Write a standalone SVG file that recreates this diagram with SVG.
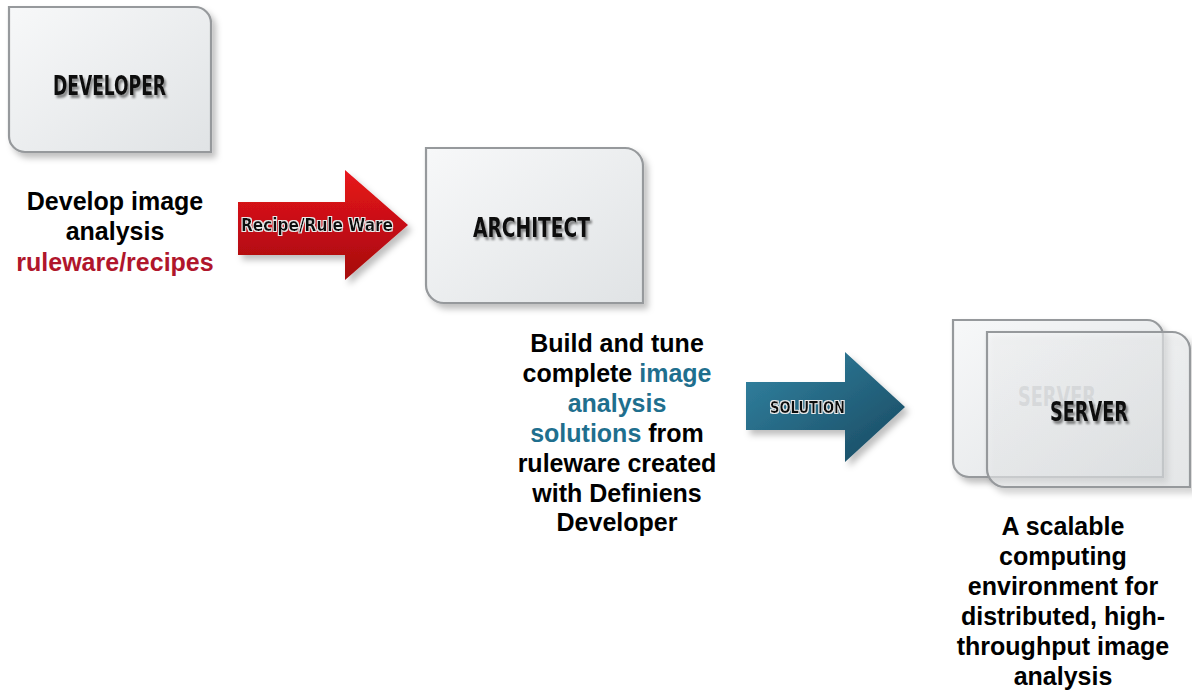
<svg xmlns="http://www.w3.org/2000/svg" width="1192" height="690" viewBox="0 0 1192 690">
<defs>
<linearGradient id="boxGrad" x1="0" y1="0" x2="1" y2="1">
<stop offset="0" stop-color="#f7f8f9"/>
<stop offset="1" stop-color="#e0e3e5"/>
</linearGradient>
<linearGradient id="redGrad" x1="0" y1="0" x2="0" y2="1">
<stop offset="0" stop-color="#e8151b"/>
<stop offset="1" stop-color="#a50a0e"/>
</linearGradient>
<linearGradient id="blueGrad" x1="0" y1="0" x2="1" y2="1">
<stop offset="0" stop-color="#3385a4"/>
<stop offset="1" stop-color="#18485f"/>
</linearGradient>
<filter id="boxShadow" x="-10%" y="-10%" width="125%" height="130%">
<feDropShadow dx="4" dy="5" stdDeviation="3" flood-color="#000" flood-opacity="0.25"/>
</filter>
<filter id="txtShadow" x="-10%" y="-30%" width="125%" height="170%">
<feDropShadow dx="2" dy="3" stdDeviation="1.2" flood-color="#000" flood-opacity="0.45"/>
</filter>
<filter id="glow" x="-10%" y="-40%" width="120%" height="180%">
<feMorphology in="SourceAlpha" operator="dilate" radius="1.3" result="d"/>
<feFlood flood-color="#e9e9e9"/>
<feComposite in2="d" operator="in" result="g"/>
<feMerge><feMergeNode in="g"/><feMergeNode in="SourceGraphic"/></feMerge>
</filter>
</defs>
<style>
.box{fill:url(#boxGrad);stroke:#96999c;stroke-width:2.2;filter:url(#boxShadow)}
.lbl{font-family:"DejaVu Sans Condensed","DejaVu Sans",sans-serif;font-stretch:condensed;font-weight:bold;fill:#111}
.desc{font-family:"Liberation Sans",Arial,sans-serif;font-weight:bold;font-size:25px;fill:#000;text-anchor:middle}
.red{fill:#b0162c}
.blue{fill:#1f6f8e}
.alab{font-family:"DejaVu Sans Condensed","DejaVu Sans",sans-serif;font-stretch:condensed;font-weight:bold;fill:#111;filter:url(#glow)}
</style>

<g id="developer">
<path class="box" d="M9,7 H195 A16,16 0 0 1 211,23 V152 H25 A16,16 0 0 1 9,136 Z"/>
<text class="lbl" x="53" y="95" font-size="26" textLength="113" lengthAdjust="spacingAndGlyphs" filter="url(#txtShadow)">DEVELOPER</text>
<text class="desc"><tspan x="115" y="210">Develop image</tspan><tspan x="115" y="240">analysis</tspan><tspan x="115" y="271" class="red">ruleware/recipes</tspan></text>
</g>

<g id="architect">
<path class="box" d="M426,148 H625 A18,18 0 0 1 643,166 V303 H444 A18,18 0 0 1 426,285 Z"/>
<text class="lbl" x="473" y="237" font-size="26" textLength="117" lengthAdjust="spacingAndGlyphs" filter="url(#txtShadow)">ARCHITECT</text>
<text class="desc"><tspan x="617" y="352">Build and tune</tspan><tspan x="617" y="382">complete <tspan class="blue">image</tspan></tspan><tspan x="617" y="412" class="blue">analysis</tspan><tspan x="617" y="442"><tspan class="blue">solutions</tspan> from</tspan><tspan x="617" y="472">ruleware created</tspan><tspan x="617" y="502">with Definiens</tspan><tspan x="617" y="531">Developer</tspan></text>
</g>

<g id="server">
<path class="box" d="M953,320 H1147 A16,16 0 0 1 1163,336 V477 H969 A16,16 0 0 1 953,461 Z"/>
<text class="lbl" x="1018" y="406" font-size="26" textLength="78" lengthAdjust="spacingAndGlyphs" style="fill:#b9bcbf">SERVER</text>
<path class="box" d="M987,332 H1172 A18,18 0 0 1 1190,350 V487 H1005 A18,18 0 0 1 987,469 Z" style="fill-opacity:0.6"/>
<text class="lbl" x="1050" y="421" font-size="26" textLength="78" lengthAdjust="spacingAndGlyphs" filter="url(#txtShadow)">SERVER</text>
<text class="desc"><tspan x="1063" y="535">A scalable</tspan><tspan x="1063" y="565">computing</tspan><tspan x="1063" y="595">environment for</tspan><tspan x="1063" y="625">distributed, high-</tspan><tspan x="1063" y="655">throughput image</tspan><tspan x="1063" y="685">analysis</tspan></text>
</g>

<g id="connectors">
<g id="arrow-recipe">
<path d="M238,202 H345 V170 L408,225 L345,280 V255 H238 Z" fill="url(#redGrad)" filter="url(#boxShadow)"/>
<text class="alab" x="241" y="231" font-size="17" textLength="152" lengthAdjust="spacingAndGlyphs">Recipe/Rule Ware</text>
</g>
<g id="arrow-solution">
<path d="M746,382 H845 V352 L905,407 L845,462 V430 H746 Z" fill="url(#blueGrad)" filter="url(#boxShadow)"/>
<text class="alab" x="770" y="413" font-size="15" textLength="75" lengthAdjust="spacingAndGlyphs">SOLUTION</text>
</g>
</g>
</svg>
